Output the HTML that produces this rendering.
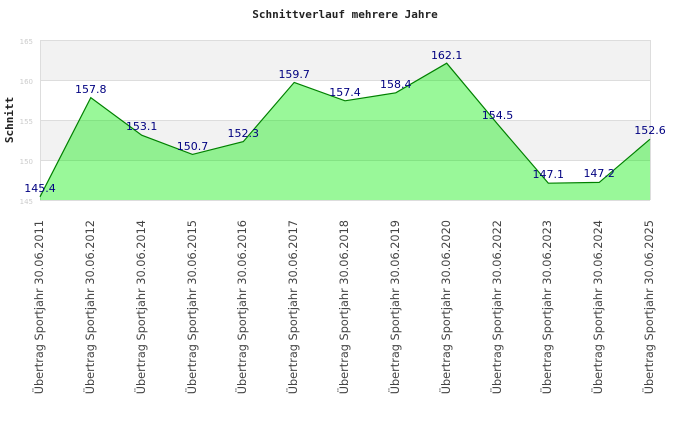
<!DOCTYPE html>
<html><head><meta charset="utf-8"><style>body{margin:0;background:#fff}</style></head><body>
<svg width="690" height="420" xmlns="http://www.w3.org/2000/svg" font-family="DejaVu Sans, sans-serif">
<rect width="690" height="420" fill="#fff"/>
<text x="345" y="18" text-anchor="middle" font-family="DejaVu Sans Mono, monospace" font-weight="bold" font-size="11" fill="#222">Schnittverlauf mehrere Jahre</text>
<rect x="40" y="40" width="610" height="40" fill="#f2f2f2"/>
<rect x="40" y="120" width="610" height="40" fill="#f2f2f2"/>
<g stroke="#ddd" stroke-width="1">
<line x1="40" y1="40.5" x2="650" y2="40.5"/><line x1="40" y1="80.5" x2="650" y2="80.5"/><line x1="40" y1="120.5" x2="650" y2="120.5"/><line x1="40" y1="160.5" x2="650" y2="160.5"/><line x1="40" y1="200.5" x2="650" y2="200.5"/>
<line x1="40.5" y1="40" x2="40.5" y2="200"/><line x1="650.5" y1="40" x2="650.5" y2="200"/>
</g>
<g font-size="7" fill="#ccc" text-anchor="end">
<text x="33" y="44">165</text><text x="33" y="84">160</text><text x="33" y="124">155</text><text x="33" y="164">150</text><text x="33" y="204">145</text>
</g>
<polygon points="40,200 40,196.8 90.8,97.6 141.7,135.2 192.5,154.4 243.3,141.6 294.2,82.4 345,100.8 395.8,92.8 446.7,63.2 497.5,124 548.3,183.2 599.2,182.4 650,139.2 650,200" fill="#00ee00" fill-opacity="0.4"/>
<polyline points="40,196.8 90.8,97.6 141.7,135.2 192.5,154.4 243.3,141.6 294.2,82.4 345,100.8 395.8,92.8 446.7,63.2 497.5,124 548.3,183.2 599.2,182.4 650,139.2" fill="none" stroke="#008000" stroke-width="1.2"/>
<g font-size="11" fill="#000080" text-anchor="middle">
<text x="40" y="192">145.4</text><text x="90.8" y="93">157.8</text><text x="141.7" y="130">153.1</text><text x="192.5" y="150">150.7</text><text x="243.3" y="137">152.3</text><text x="294.2" y="78">159.7</text><text x="345" y="96">157.4</text><text x="395.8" y="88">158.4</text><text x="446.7" y="59">162.1</text><text x="497.5" y="119">154.5</text><text x="548.3" y="178">147.1</text><text x="599.2" y="177">147.2</text><text x="650" y="134">152.6</text>
</g>
<text transform="translate(13,120) rotate(-90)" text-anchor="middle" font-family="DejaVu Sans Mono, monospace" font-weight="bold" font-size="11" fill="#222">Schnitt</text>
<g font-size="11.3" fill="#444" text-anchor="end">
<text transform="translate(43,220) rotate(-90)">Übertrag Sportjahr 30.06.2011</text>
<text transform="translate(94,220) rotate(-90)">Übertrag Sportjahr 30.06.2012</text>
<text transform="translate(145,220) rotate(-90)">Übertrag Sportjahr 30.06.2014</text>
<text transform="translate(196,220) rotate(-90)">Übertrag Sportjahr 30.06.2015</text>
<text transform="translate(246,220) rotate(-90)">Übertrag Sportjahr 30.06.2016</text>
<text transform="translate(297,220) rotate(-90)">Übertrag Sportjahr 30.06.2017</text>
<text transform="translate(348,220) rotate(-90)">Übertrag Sportjahr 30.06.2018</text>
<text transform="translate(399,220) rotate(-90)">Übertrag Sportjahr 30.06.2019</text>
<text transform="translate(450,220) rotate(-90)">Übertrag Sportjahr 30.06.2020</text>
<text transform="translate(501,220) rotate(-90)">Übertrag Sportjahr 30.06.2022</text>
<text transform="translate(551,220) rotate(-90)">Übertrag Sportjahr 30.06.2023</text>
<text transform="translate(602,220) rotate(-90)">Übertrag Sportjahr 30.06.2024</text>
<text transform="translate(653,220) rotate(-90)">Übertrag Sportjahr 30.06.2025</text>
</g>
</svg>
</body></html>
